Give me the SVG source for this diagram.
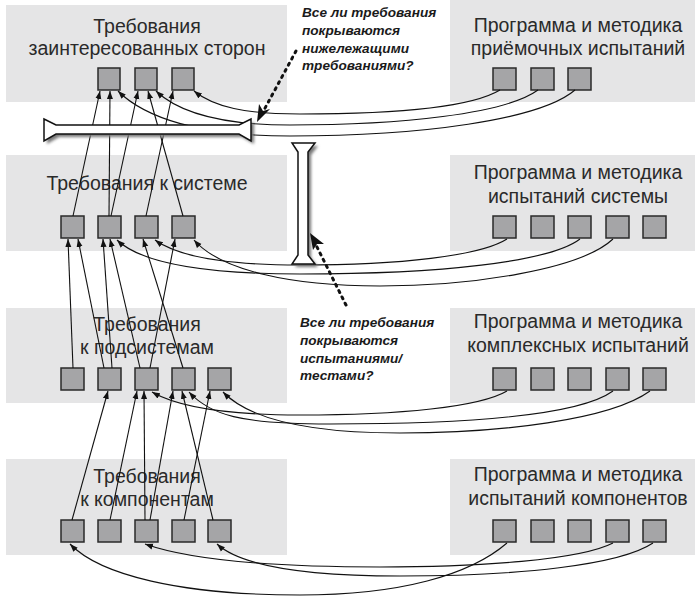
<svg xmlns="http://www.w3.org/2000/svg" width="695" height="598" viewBox="0 0 695 598">
<defs>
<style>
.panel{fill:#e5e5e6}
.sq{fill:#a5a5a7;stroke:#2a2a2a;stroke-width:1.5}
.t{font-family:"Liberation Sans",Arial,sans-serif;font-size:19.5px;fill:#2a2a2a;text-anchor:middle}
.n{font-family:"Liberation Sans",Arial,sans-serif;font-size:13.6px;font-weight:bold;font-style:italic;fill:#1a1a1a}
.c{fill:none;stroke:#111;stroke-width:1.1;marker-end:url(#ah)}
.dot{fill:none;stroke:#111;stroke-width:3;stroke-dasharray:2 5;stroke-linecap:round}
.bar{fill:#fff;stroke:#111;stroke-width:1.5}
</style>
<marker id="ah" markerUnits="userSpaceOnUse" markerWidth="9" markerHeight="7" refX="8" refY="3.5" orient="auto"><path d="M0,0.5 L8,3.5 L0,6.5 Z" fill="#111"/></marker>
<filter id="sh" x="-20%" y="-20%" width="140%" height="160%"><feGaussianBlur stdDeviation="1.8"/></filter>
</defs>

<g id="panel-stakeholders">
<rect class="panel" x="6" y="5" width="281" height="97"/>
<text class="t" x="147" y="33">Требования</text>
<text class="t" x="147" y="55">заинтересованных сторон</text>
<rect class="sq" x="98" y="68" width="22" height="22"/>
<rect class="sq" x="135" y="68" width="22" height="22"/>
<rect class="sq" x="172" y="68" width="22" height="22"/>
</g>
<g id="panel-acceptance">
<rect class="panel" x="450" y="0" width="245" height="102"/>
<text class="t" x="578" y="32">Программа и методика</text>
<text class="t" x="578" y="55">приёмочных испытаний</text>
<rect class="sq" x="493" y="68" width="23" height="22"/>
<rect class="sq" x="531" y="68" width="23" height="22"/>
<rect class="sq" x="568" y="68" width="23" height="22"/>
</g>
<g id="panel-system">
<rect class="panel" x="6" y="155" width="281" height="96"/>
<text class="t" x="147" y="190">Требования к системе</text>
<rect class="sq" x="61" y="216" width="23" height="22"/>
<rect class="sq" x="98" y="216" width="23" height="22"/>
<rect class="sq" x="135" y="216" width="23" height="22"/>
<rect class="sq" x="172" y="216" width="23" height="22"/>
</g>
<g id="panel-system-tests">
<rect class="panel" x="450" y="155" width="245" height="96"/>
<text class="t" x="578" y="179">Программа и методика</text>
<text class="t" x="578" y="203">испытаний системы</text>
<rect class="sq" x="493" y="216" width="23" height="22"/>
<rect class="sq" x="531" y="216" width="23" height="22"/>
<rect class="sq" x="568" y="216" width="23" height="22"/>
<rect class="sq" x="606" y="216" width="23" height="22"/>
<rect class="sq" x="643" y="216" width="23" height="22"/>
</g>
<g id="panel-subsystems">
<rect class="panel" x="6" y="308" width="281" height="95"/>
<text class="t" x="147" y="331">Требования</text>
<text class="t" x="147" y="354">к подсистемам</text>
<rect class="sq" x="61" y="368" width="23" height="22"/>
<rect class="sq" x="98" y="368" width="23" height="22"/>
<rect class="sq" x="135" y="368" width="23" height="22"/>
<rect class="sq" x="172" y="368" width="23" height="22"/>
<rect class="sq" x="208" y="368" width="23" height="22"/>
</g>
<g id="panel-integration-tests">
<rect class="panel" x="450" y="308" width="245" height="95"/>
<text class="t" x="578" y="328">Программа и методика</text>
<text class="t" x="578" y="352">комплексных испытаний</text>
<rect class="sq" x="493" y="368" width="23" height="22"/>
<rect class="sq" x="531" y="368" width="23" height="22"/>
<rect class="sq" x="568" y="368" width="23" height="22"/>
<rect class="sq" x="606" y="368" width="23" height="22"/>
<rect class="sq" x="643" y="368" width="23" height="22"/>
</g>
<g id="panel-components">
<rect class="panel" x="6" y="459" width="281" height="96"/>
<text class="t" x="147" y="483">Требования</text>
<text class="t" x="147" y="506">к компонентам</text>
<rect class="sq" x="61" y="520" width="23" height="22"/>
<rect class="sq" x="98" y="520" width="23" height="22"/>
<rect class="sq" x="135" y="520" width="23" height="22"/>
<rect class="sq" x="172" y="520" width="23" height="22"/>
<rect class="sq" x="208" y="520" width="23" height="22"/>
</g>
<g id="panel-component-tests">
<rect class="panel" x="450" y="459" width="245" height="96"/>
<text class="t" x="578" y="481">Программа и методика</text>
<text class="t" x="578" y="505">испытаний компонентов</text>
<rect class="sq" x="493" y="520" width="23" height="22"/>
<rect class="sq" x="531" y="520" width="23" height="22"/>
<rect class="sq" x="568" y="520" width="23" height="22"/>
<rect class="sq" x="606" y="520" width="23" height="22"/>
<rect class="sq" x="643" y="520" width="23" height="22"/>
</g>

<g id="connectors">
<path class="c" d="M73,216 L100,91"/>
<path class="c" d="M109,216 L110,91"/>
<path class="c" d="M111,216 L138,91"/>
<path class="c" d="M183,216 L148,91"/>
<path class="c" d="M146,216 L173,91"/>

<path class="c" d="M73,368 L68,239"/>
<path class="c" d="M104,368 L78,239"/>
<path class="c" d="M112,368 L103,239"/>
<path class="c" d="M140,368 L110,239"/>
<path class="c" d="M150,368 L175,239"/>
<path class="c" d="M183,368 L143,239"/>

<path class="c" d="M72,520 L108,391"/>
<path class="c" d="M110,520 L137,391"/>
<path class="c" d="M145,520 L144,391"/>
<path class="c" d="M150,520 L173,391"/>
<path class="c" d="M213,520 L182,391"/>
<path class="c" d="M184,520 L210,391"/>

<path class="c" d="M500,90 C470,108 390,114 300,114 C245,114 214,107 194,91"/>
<path class="c" d="M538,90 C505,114 400,125 290,125 C220,125 178,112 156,91"/>
<path class="c" d="M575,90 C540,120 420,136 290,136 C200,136 145,118 118,91"/>

<path class="c" d="M507,239 C480,256 400,265 300,265 C230,265 180,258 155,240"/>
<path class="c" d="M580,239 C550,262 440,274 300,274 C200,274 140,262 117,240"/>
<path class="c" d="M613,239 C580,270 470,286 380,286 C290,286 220,270 194,240"/>

<path class="c" d="M507,391 C480,407 400,415 300,415 C230,415 180,408 152,392"/>
<path class="c" d="M613,391 C580,415 470,424 330,424 C240,424 210,415 189,392"/>
<path class="c" d="M650,391 C610,420 500,433 400,433 C310,433 250,420 223,392"/>

<path class="c" d="M507,543 C470,575 400,595 300,595 C180,595 100,575 70,544"/>
<path class="c" d="M613,543 C580,560 480,567 380,567 C270,567 190,560 145,544"/>
<path class="c" d="M653,543 C620,565 520,576 400,576 C300,576 240,565 217,544"/>
</g>

<g id="bar-horizontal">
<path d="M47,122 L59,128 L242,128 L254,122 L254,144 L242,137 L59,137 L47,144 Z" fill="#777" filter="url(#sh)"/>
<path class="bar" d="M44,119 L56,125 L239,125 L251,119 L251,141 L239,134 L56,134 L44,141 Z"/>
</g>
<g id="bar-vertical">
<path d="M295,146 L318,146 L311,155 L311,258 L318,267 L295,267 L301,258 L301,155 Z" fill="#777" filter="url(#sh)"/>
<path class="bar" d="M292,143 L315,143 L308,152 L308,255 L315,264 L292,264 L298,255 L298,152 Z"/>
</g>

<g id="note-requirements">
<text class="n" x="302" y="17">Все ли требования</text>
<text class="n" x="302" y="35">покрываются</text>
<text class="n" x="302" y="53">нижележащими</text>
<text class="n" x="302" y="70">требованиями?</text>
<path class="dot" d="M296,51 L264,110"/>
<path d="M257,122 L259,104 L263,111 L270,109 Z" fill="#111"/>
</g>
<g id="note-tests">
<text class="n" x="300" y="327">Все ли требования</text>
<text class="n" x="300" y="345">покрываются</text>
<text class="n" x="300" y="363">испытаниями/</text>
<text class="n" x="300" y="380">тестами?</text>
<path class="dot" d="M346,305 L316,245"/>
<path d="M310,233 L324,244 L317,244 L313,250 Z" fill="#111"/>
</g>
</svg>
